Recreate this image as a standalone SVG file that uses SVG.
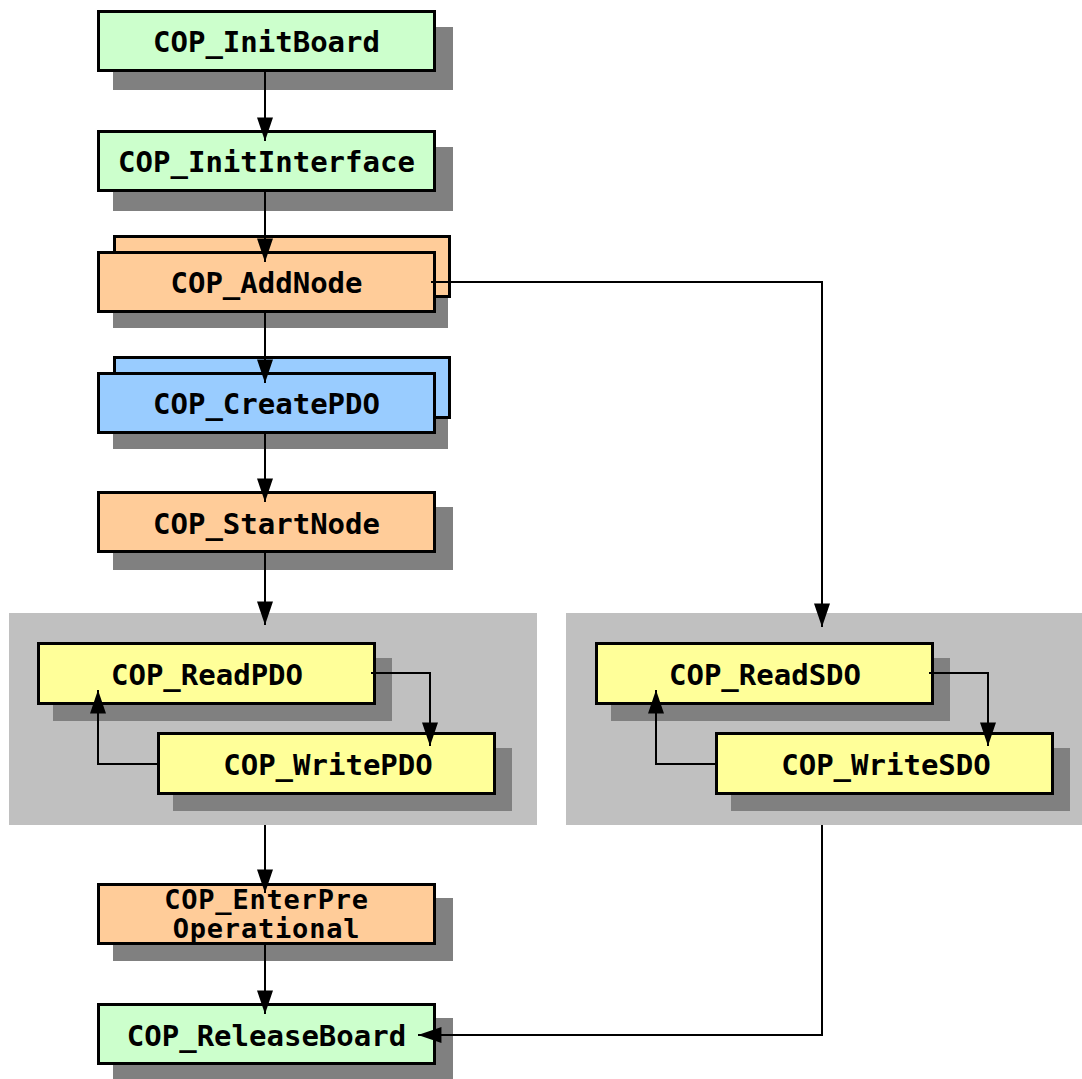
<svg xmlns="http://www.w3.org/2000/svg" width="1082" height="1079" viewBox="0 0 1082 1079">
<defs>
<style>
.box{stroke:#000;stroke-width:3}
.sh{fill:#808080}
.green{fill:#ccffcc}
.orange{fill:#ffcc99}
.blue{fill:#99ccff}
.yellow{fill:#ffff99}
.grp{fill:#c0c0c0}
.t{font-family:"DejaVu Sans Mono","Liberation Mono",monospace;font-weight:bold;font-size:29px;fill:#000;text-anchor:middle}
.t2{font-size:27px;letter-spacing:0.8px}
.c{fill:none;stroke:#000;stroke-width:2;marker-end:url(#ah)}
</style>
<marker id="ah" markerUnits="userSpaceOnUse" markerWidth="24" markerHeight="16" viewBox="0 0 22 15" refX="22" refY="7.5" orient="auto">
<path d="M0,0 L22,7.5 L0,15 Z" fill="#000"/>
</marker>
</defs>
<rect width="1082" height="1079" fill="#fff"/>
<g id="groupPDO"><rect class="grp" x="9" y="613" width="528" height="212"/></g>
<g id="groupSDO"><rect class="grp" x="566" y="613" width="516" height="212"/></g>

<g id="InitBoard">
<rect class="sh" x="113" y="27" width="340" height="63"/>
<rect class="box green" x="98.5" y="11.5" width="336" height="59"/>
<text class="t" x="266.5" y="52">COP_InitBoard</text>
</g>
<g id="InitInterface">
<rect class="sh" x="113" y="147" width="340" height="64"/>
<rect class="box green" x="98.5" y="131.5" width="336" height="59"/>
<text class="t" x="266.5" y="172">COP_InitInterface</text>
</g>
<g id="AddNode">
<rect class="sh" x="113" y="266" width="335" height="62"/>
<rect class="box orange" x="114.5" y="236.5" width="335" height="60"/>
<rect class="box orange" x="98.5" y="252.5" width="336" height="59"/>
<text class="t" x="266.5" y="293">COP_AddNode</text>
</g>
<g id="CreatePDO">
<rect class="sh" x="113" y="387" width="335" height="62"/>
<rect class="box blue" x="114.5" y="357.5" width="335" height="60"/>
<rect class="box blue" x="98.5" y="373.5" width="336" height="59"/>
<text class="t" x="266.5" y="414">COP_CreatePDO</text>
</g>
<g id="StartNode">
<rect class="sh" x="113" y="507" width="340" height="63"/>
<rect class="box orange" x="98.5" y="492.5" width="336" height="59"/>
<text class="t" x="266.5" y="534">COP_StartNode</text>
</g>
<g id="ReadPDO">
<rect class="sh" x="53" y="658" width="339" height="63"/>
<rect class="box yellow" x="38.5" y="643.5" width="336" height="60"/>
<text class="t" x="207" y="685">COP_ReadPDO</text>
</g>
<g id="WritePDO">
<rect class="sh" x="173" y="748" width="339" height="63"/>
<rect class="box yellow" x="158.5" y="733.5" width="336" height="60"/>
<text class="t" x="328" y="775">COP_WritePDO</text>
</g>
<g id="ReadSDO">
<rect class="sh" x="611" y="658" width="339" height="63"/>
<rect class="box yellow" x="596.5" y="643.5" width="336" height="60"/>
<text class="t" x="765" y="685">COP_ReadSDO</text>
</g>
<g id="WriteSDO">
<rect class="sh" x="731" y="748" width="339" height="63"/>
<rect class="box yellow" x="716.5" y="733.5" width="336" height="60"/>
<text class="t" x="886" y="775">COP_WriteSDO</text>
</g>
<g id="EnterPreOperational">
<rect class="sh" x="113" y="898" width="340" height="63"/>
<rect class="box orange" x="98.5" y="884.5" width="336" height="59"/>
<text class="t t2" x="266.5" y="909">COP_EnterPre</text>
<text class="t t2" x="266.5" y="938">Operational</text>
</g>
<g id="ReleaseBoard">
<rect class="sh" x="113" y="1018" width="340" height="61"/>
<rect class="box green" x="98.5" y="1004.5" width="336" height="59"/>
<text class="t" x="266.5" y="1046">COP_ReleaseBoard</text>
</g>

<g id="connectors">
<path class="c" d="M265,72 V141"/>
<path class="c" d="M265,192 V262"/>
<path class="c" d="M265,313 V383"/>
<path class="c" d="M265,434 V502"/>
<path class="c" d="M265,553 V625"/>
<path class="c" d="M265,825 V893"/>
<path class="c" d="M265,945 V1014"/>
<path class="c" d="M431,282 H822 V627"/>
<path class="c" d="M822,825 V1035 H418"/>
<path class="c" d="M371,673 H430 V746"/>
<path class="c" d="M158,764 H98 V690"/>
<path class="c" d="M929,673 H988 V746"/>
<path class="c" d="M716,764 H656 V690"/>
</g>
</svg>
